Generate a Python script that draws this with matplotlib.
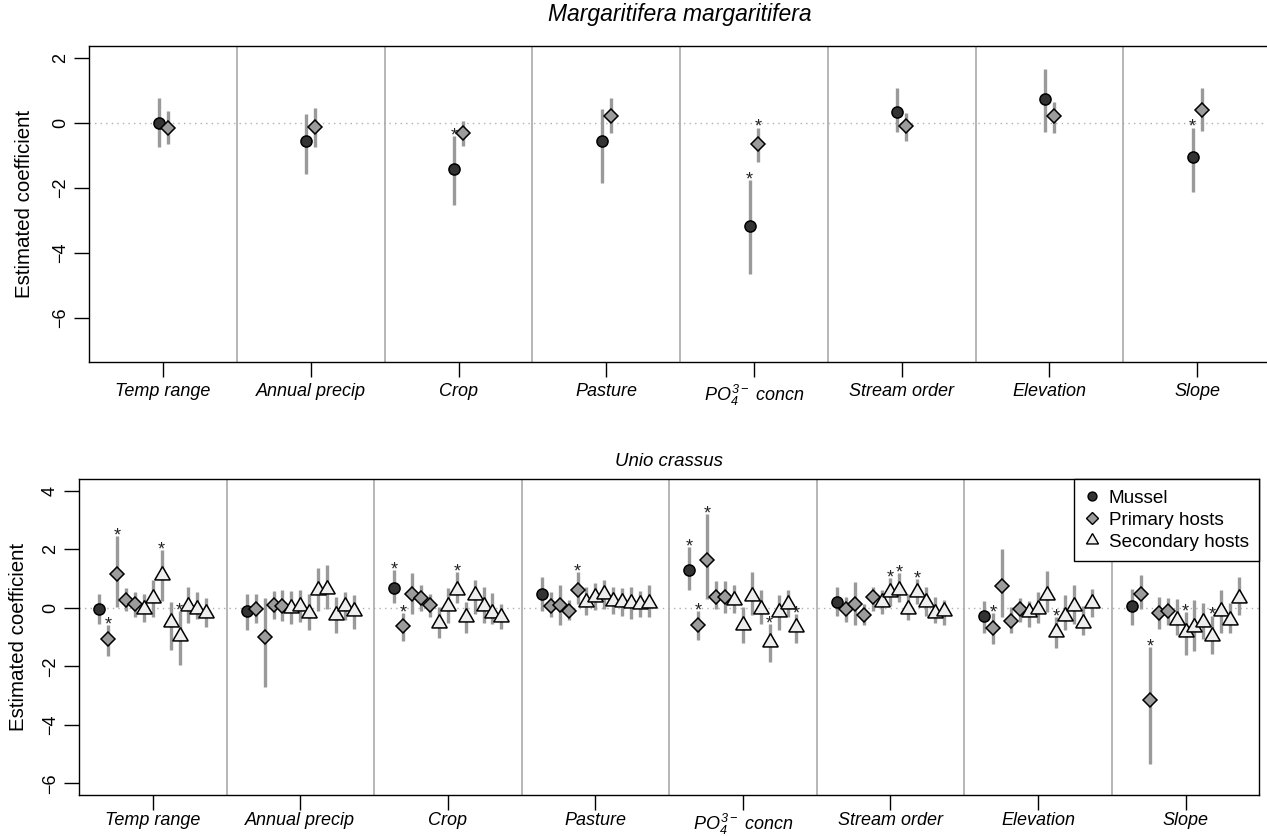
import matplotlib

matplotlib.use("Agg")
import matplotlib.pyplot as plt
import numpy as np
from matplotlib.lines import Line2D

plt.rcParams["font.family"] = ["Liberation Sans", "DejaVu Sans"]
plt.rcParams["mathtext.fontset"] = "custom"
plt.rcParams["mathtext.rm"] = "Liberation Sans:italic"
plt.rcParams["mathtext.it"] = "Liberation Sans:italic"

W, H = 1267, 836

VARIABLES = ["Temp range", "Annual precip", "Crop", "Pasture",
             r"$PO_4^{3-}$ concn", "Stream order", "Elevation", "Slope"]

# Margaritifera margaritifera: [mussel, primary host] per variable
MM_GROUPS = ["Mussel", "Primary hosts"]
MM_EST = [[0.00, -0.17], [-0.57, -0.12], [-1.42, -0.31], [-0.55, 0.20],
          [-3.18, -0.67], [0.33, -0.09], [0.72, 0.21], [-1.05, 0.39]]
MM_LO = [[-0.76, -0.66], [-1.58, -0.74], [-2.55, -0.71], [-1.87, -0.31],
         [-4.66, -1.21], [-0.28, -0.57], [-0.28, -0.31], [-2.15, -0.25]]
MM_HI = [[0.75, 0.36], [0.28, 0.44], [-0.42, 0.06], [0.41, 0.75],
         [-1.77, -0.15], [1.06, 0.29], [1.66, 0.64], [-0.15, 1.06]]

# Unio crassus: mussel, 4 primary hosts, 8 secondary hosts per variable
UC_GROUPS = ["Mussel"] + ["Primary hosts"] * 4 + ["Secondary hosts"] * 8
UC_EST = [
    [-0.02, -1.08, 1.17, 0.28, 0.14, -0.04, 0.33, 1.13, -0.49, -0.97, 0.08, -0.04, -0.18],
    [-0.09, -0.03, -1.00, 0.10, 0.05, -0.01, 0.05, -0.16, 0.63, 0.65, -0.24, 0.07, -0.12],
    [0.69, -0.63, 0.48, 0.33, 0.10, -0.50, 0.07, 0.63, -0.32, 0.45, 0.07, -0.16, -0.32],
    [0.46, 0.08, 0.10, -0.09, 0.63, 0.19, 0.39, 0.49, 0.25, 0.20, 0.16, 0.14, 0.17],
    [1.30, -0.58, 1.64, 0.37, 0.37, 0.28, -0.60, 0.42, -0.03, -1.17, -0.14, 0.14, -0.66],
    [0.20, -0.05, 0.14, -0.23, 0.37, 0.19, 0.53, 0.63, -0.03, 0.53, 0.19, -0.17, -0.09],
    [-0.26, -0.68, 0.74, -0.45, -0.05, -0.14, -0.03, 0.45, -0.81, -0.28, 0.06, -0.51, 0.17],
    [0.05, 0.46, -3.15, -0.17, -0.11, -0.43, -0.83, -0.64, -0.49, -0.95, -0.09, -0.40, 0.33],
]
UC_LO = [
    [-0.55, -1.63, 0.03, -0.09, -0.32, -0.49, -0.32, 0.25, -1.44, -1.94, -0.52, -0.37, -0.64],
    [-0.75, -0.52, -2.72, -0.37, -0.45, -0.55, -0.47, -0.77, -0.09, -0.03, -0.87, -0.43, -0.72],
    [0.16, -1.12, -0.20, -0.09, -0.30, -1.04, -0.52, 0.16, -0.87, -0.20, -0.52, -0.55, -0.72],
    [-0.09, -0.30, -0.60, -0.43, 0.14, -0.23, -0.07, -0.02, -0.20, -0.26, -0.37, -0.32, -0.32],
    [0.62, -1.10, 0.31, -0.03, -0.18, -0.18, -1.21, -0.23, -0.55, -1.86, -0.77, -0.32, -1.21],
    [-0.26, -0.49, -0.60, -0.57, -0.09, -0.20, 0.08, 0.20, -0.43, 0.14, -0.26, -0.52, -0.57],
    [-0.87, -1.23, -0.32, -0.87, -0.49, -0.66, -0.52, -0.15, -1.37, -0.77, -0.55, -0.91, -0.30],
    [-0.60, -0.02, -5.34, -0.72, -0.60, -0.91, -1.60, -1.46, -1.06, -1.57, -0.87, -0.87, -0.23],
]
UC_HI = [
    [0.46, -0.58, 2.45, 0.68, 0.56, 0.48, 0.94, 1.99, 0.20, -0.09, 0.71, 0.54, 0.34],
    [0.46, 0.46, 0.34, 0.57, 0.60, 0.57, 0.60, 0.48, 1.36, 1.48, 0.37, 0.56, 0.45],
    [1.30, -0.18, 1.19, 0.79, 0.48, 0.02, 0.69, 1.22, 0.20, 0.94, 0.71, 0.50, 0.14],
    [1.07, 0.54, 0.79, 0.28, 1.22, 0.71, 0.85, 0.96, 0.71, 0.69, 0.71, 0.57, 0.77],
    [2.08, -0.11, 3.20, 0.91, 0.91, 0.77, 0.02, 1.22, 0.60, -0.55, 0.43, 0.60, -0.20],
    [0.71, 0.37, 0.88, 0.14, 0.71, 0.60, 1.03, 1.19, 0.48, 0.99, 0.71, 0.37, 0.28],
    [0.25, -0.18, 2.02, 0.02, 0.34, 0.25, 0.54, 1.28, -0.32, 0.43, 0.77, 0.05, 0.65],
    [0.65, 1.11, -1.35, 0.39, 0.34, 0.31, -0.15, 0.28, 0.16, -0.26, 0.62, 0.16, 1.07],
]

STYLE = {
    "Mussel": dict(marker="o", markerfacecolor="#333333", markersize=8.0),
    "Primary hosts": dict(marker="D", markerfacecolor="#9c9c9c", markersize=7.2),
    "Secondary hosts": dict(marker=(3, 0, 0), markerfacecolor="#eeeeee", markersize=12.8),
}
LEGEND_SIZE = {"Mussel": 6.4, "Primary hosts": 5.8, "Secondary hosts": 10.0}
BAR_COLOR = "#9a9a9a"
SEP_COLOR = "#a3a3a3"
SPACING = 0.0605


def px_axes(left, top, right, bottom):
    return [left / W, 1 - bottom / H, (right - left) / W, (bottom - top) / H]


def draw_panel(ax, est, lo, hi, groups, ylim, yticks, xpad):
    n = len(groups)
    offsets = (np.arange(n) - (n - 1) / 2) * SPACING
    ax.axhline(0, color="#b0b0b0", lw=1.0, ls=(0, (1, 3)), zorder=1)
    for k in range(1, len(VARIABLES)):
        ax.axvline(k + 0.5, color=SEP_COLOR, lw=1.1, zorder=1)
    for i in range(len(VARIABLES)):
        xs = i + 1 + offsets
        ax.vlines(xs, lo[i], hi[i], color=BAR_COLOR, lw=2.4, zorder=2)
        for j, g in enumerate(groups):
            ax.plot(xs[j], est[i][j], linestyle="none", markeredgecolor="black",
                    markeredgewidth=1.1, zorder=3, **STYLE[g])
            if lo[i][j] > 0 or hi[i][j] < 0:
                ax.annotate("*", (xs[j], hi[i][j]), xytext=(0, -3.2),
                            textcoords="offset points", ha="center", va="baseline",
                            fontsize=13, color="#222222", zorder=4)
    ax.set_xlim(0.5, 8.5)
    ax.set_ylim(*ylim)
    ax.set_xticks(range(1, len(VARIABLES) + 1))
    ax.set_xticklabels(VARIABLES, fontstyle="italic", fontsize=13)
    ax.set_yticks(yticks)
    ax.tick_params(axis="both", direction="out", length=10.5, width=1.0, labelsize=13)
    ax.tick_params(axis="x", pad=xpad)
    ax.tick_params(axis="y", labelrotation=90, pad=4)
    for lab in ax.get_yticklabels():
        lab.set_verticalalignment("center")
    for sp in ax.spines.values():
        sp.set_linewidth(1.0)


fig = plt.figure(figsize=(W / 100, H / 100), dpi=100)

ax_top = fig.add_axes(px_axes(89.3, 46, 1271, 361.7))
draw_panel(ax_top, MM_EST, MM_LO, MM_HI, MM_GROUPS, (-7.36, 2.36), [-6, -4, -2, 0, 2], 5)

ax_bot = fig.add_axes(px_axes(79, 479.3, 1259.3, 795))
draw_panel(ax_bot, UC_EST, UC_LO, UC_HI, UC_GROUPS, (-6.4, 4.4), [-6, -4, -2, 0, 2, 4], 2)

handles = [Line2D([], [], linestyle="none", marker=STYLE[g]["marker"],
                  markerfacecolor=STYLE[g]["markerfacecolor"], markeredgecolor="black",
                  markeredgewidth=1.0, markersize=LEGEND_SIZE[g])
           for g in ["Mussel", "Primary hosts", "Secondary hosts"]]
leg = ax_bot.legend(handles, ["Mussel", "Primary hosts", "Secondary hosts"],
                    loc="upper right", bbox_to_anchor=(1, 1), borderaxespad=0,
                    fontsize=13.6, fancybox=False, framealpha=1, edgecolor="black",
                    handlelength=0.8, handletextpad=0.5, borderpad=0.55, labelspacing=0.25)
leg.get_frame().set_linewidth(1.0)
leg.set_zorder(5)

fig.text(680 / W, 1 - 14 / H, "Margaritifera margaritifera", ha="center", va="center",
         fontstyle="italic", fontsize=16.5)
fig.text(669 / W, 1 - 461 / H, "Unio crassus", ha="center", va="center",
         fontstyle="italic", fontsize=13.4)
fig.text(24.5 / W, 1 - 204 / H, "Estimated coefficient", rotation=90, ha="center",
         va="center", fontsize=14.8)
fig.text(18.5 / W, 1 - 637 / H, "Estimated coefficient", rotation=90, ha="center",
         va="center", fontsize=14.8)

fig.savefig("out.png", dpi=100)
